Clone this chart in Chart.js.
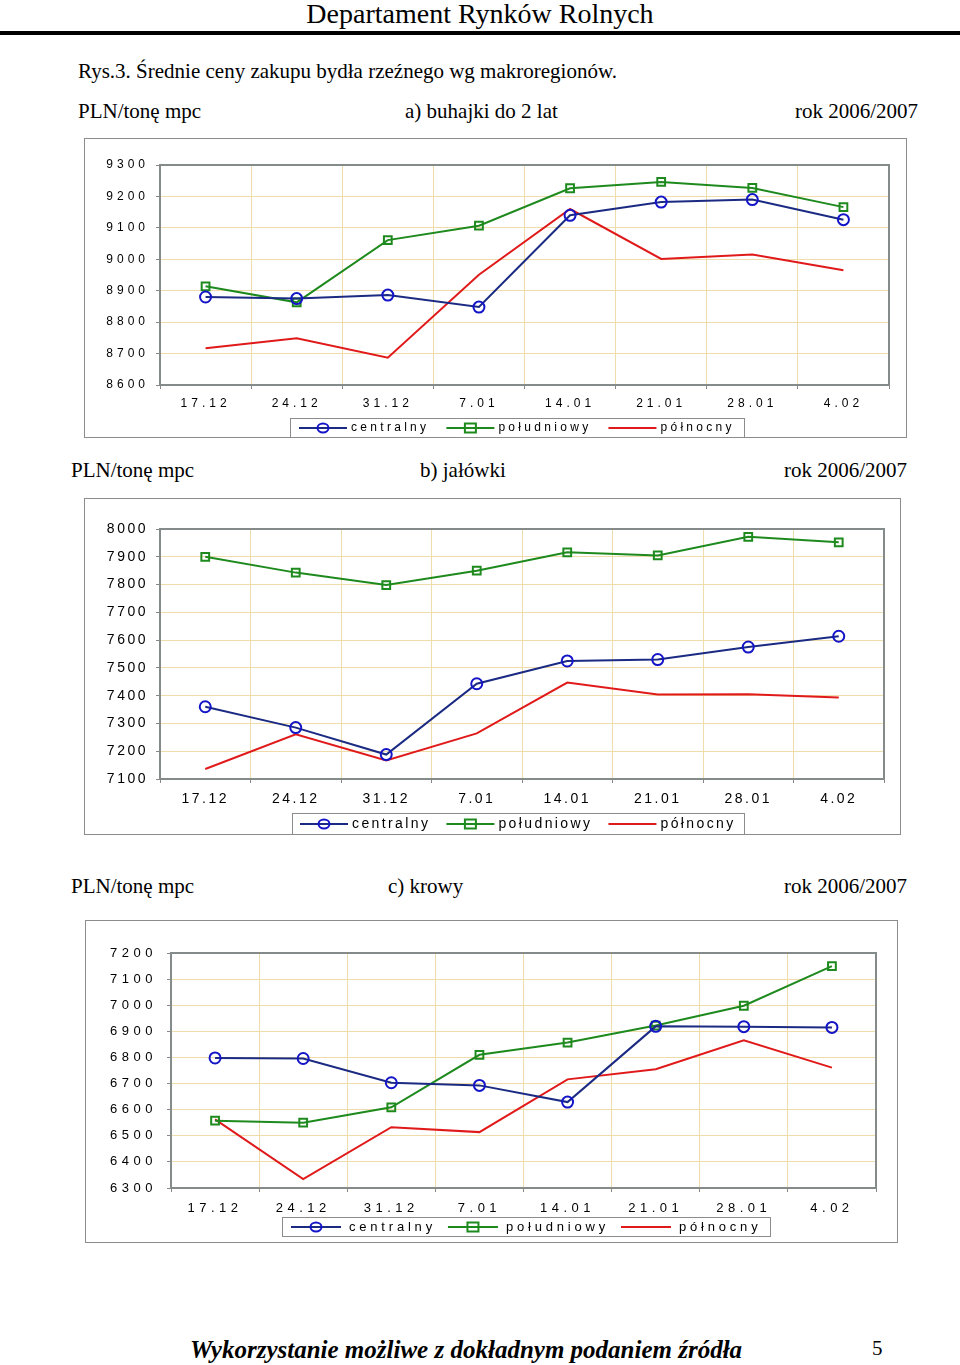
<!DOCTYPE html>
<html lang="pl">
<head>
<meta charset="utf-8">
<title>Rys.3. Średnie ceny zakupu bydła rzeźnego wg makroregionów</title>
<script src="https://cdn.jsdelivr.net/npm/chart.js@4.4.1/dist/chart.umd.min.js"></script>
<style>
  body { margin: 0; background: #fff; }
  #page { position: relative; width: 960px; height: 1365px; overflow: hidden;
          font-family: 'Liberation Serif', 'Times New Roman', serif; color: #000; }
  .t { position: absolute; font-size: 21px; line-height: 24px; white-space: nowrap; }
  .box { position: absolute; border: 1px solid #8c8c8c; background: #fff; }
  .box canvas { display: block; }
</style>
</head>
<body>
<div id="page">
  <div class="t" style="left:0;width:960px;text-align:center;top:-1px;font-size:28px;line-height:30px;">Departament Rynków Rolnych</div>
  <div style="position:absolute;left:0;top:31px;width:960px;height:4px;background:#000;"></div>

  <div class="t" style="left:78px;top:59px;">Rys.3. Średnie ceny zakupu bydła rzeźnego wg makroregionów.</div>

  <div class="t" style="left:78px;top:99px;">PLN/tonę mpc</div>
  <div class="t" style="left:405px;top:99px;">a) buhajki do 2 lat</div>
  <div class="t" style="right:42px;top:99px;">rok 2006/2007</div>
  <div class="box" style="left:84px;top:138px;"><canvas id="chartA" width="821" height="298"></canvas></div>

  <div class="t" style="left:71px;top:458px;">PLN/tonę mpc</div>
  <div class="t" style="left:420px;top:458px;">b) jałówki</div>
  <div class="t" style="right:53px;top:458px;">rok 2006/2007</div>
  <div class="box" style="left:84px;top:498px;"><canvas id="chartB" width="815" height="335"></canvas></div>

  <div class="t" style="left:71px;top:874px;">PLN/tonę mpc</div>
  <div class="t" style="left:388px;top:874px;">c) krowy</div>
  <div class="t" style="right:53px;top:874px;">rok 2006/2007</div>
  <div class="box" style="left:85px;top:920px;"><canvas id="chartC" width="811" height="321"></canvas></div>

  <div class="t" style="left:190px;top:1336px;font-size:25px;line-height:28px;font-weight:bold;font-style:italic;">Wykorzystanie możliwe z dokładnym podaniem źródła</div>
  <div class="t" style="left:872px;top:1336px;">5</div>
</div>

<script>
// Dane z wykresu (PLN/tonę mpc)
const categories = ['17.12', '24.12', '31.12', '7.01', '14.01', '21.01', '28.01', '4.02'];
const seriesNames = ['centralny', 'południowy', 'północny'];

// a) buhajki do 2 lat
const buhajkiCentralny = [8880, 8875, 8886, 8848, 9140, 9182, 9190, 9126];
const buhajkiPoludniowy = [8914, 8863, 9061, 9107, 9226, 9246, 9227, 9166];
const buhajkiPolnocny = [8717, 8749, 8687, 8951, 9160, 9001, 9015, 8965];
const buhajkiOs = [8600, 9300, 100];

// b) jałówki
const jalowkiCentralny = [7360, 7285, 7188, 7443, 7525, 7530, 7575, 7614];
const jalowkiPoludniowy = [7900, 7843, 7798, 7850, 7916, 7905, 7972, 7952];
const jalowkiPolnocny = [7136, 7261, 7167, 7264, 7447, 7404, 7405, 7393];
const jalowkiOs = [7100, 8000, 100];

// c) krowy
const krowyCentralny = [6798, 6796, 6703, 6693, 6629, 6919, 6918, 6915];
const krowyPoludniowy = [6558, 6550, 6609, 6810, 6857, 6922, 6998, 7150];
const krowyPolnocny = [6563, 6334, 6533, 6514, 6716, 6755, 6866, 6761];
const krowyOs = [6300, 7200, 100];

const FONT = "'Liberation Sans', Arial, sans-serif";
const gridColor = '#f0dcaa';

Chart.defaults.font.family = FONT;
Chart.defaults.color = '#000';

// Rozstrzelone litery na osiach (jak w oryginale)
const spacingPlugin = {
  id: 'spacing',
  beforeDraw(chart, args, opts) {
    chart.ctx.letterSpacing = opts.value || '0px';
  }
};

// Ramka obszaru wykresu
const framePlugin = {
  id: 'frame',
  beforeDatasetsDraw(chart) {
    const { ctx, chartArea: a } = chart;
    ctx.save();
    ctx.strokeStyle = '#858a8a';
    ctx.lineWidth = 2;
    ctx.strokeRect(a.left, a.top, a.right - a.left, a.bottom - a.top);
    ctx.restore();
  }
};

// Legenda: linia z markerem + opis, w ramce
const lineLegend = {
  id: 'lineLegend',
  afterDraw(chart, args, o) {
    const ctx = chart.ctx;
    ctx.save();
    ctx.font = o.size + 'px ' + FONT;
    ctx.letterSpacing = o.spacing;
    const items = chart.data.datasets.map(ds => ({ ds, w: ctx.measureText(ds.label).width }));
    let total = o.pad * 2 + o.itemGap * (items.length - 1);
    items.forEach(it => { total += o.symbol + o.gap + it.w; });
    let x = Math.round(o.cx - total / 2);
    ctx.fillStyle = '#fff';
    ctx.fillRect(x, o.top, total, o.height);
    ctx.strokeStyle = '#8c8c8c';
    ctx.lineWidth = 1;
    ctx.strokeRect(x + 0.5, o.top + 0.5, Math.round(total), o.height);
    x += o.pad;
    const cy = o.top + o.height / 2 + 0.5;
    items.forEach(({ ds, w }) => {
      ctx.strokeStyle = ds.borderColor;
      ctx.lineWidth = ds.borderWidth;
      ctx.beginPath();
      ctx.moveTo(x, cy);
      ctx.lineTo(x + o.symbol, cy);
      ctx.stroke();
      if (ds.pointRadius > 0) {
        const mx = x + o.symbol / 2, r = ds.pointRadius;
        ctx.strokeStyle = ds.pointBorderColor;
        ctx.lineWidth = ds.pointBorderWidth;
        ctx.beginPath();
        if (ds.pointStyle === 'rect') ctx.rect(mx - r, cy - r * 0.8, r * 2, r * 1.6);
        else ctx.ellipse(mx, cy, r, r * 0.8, 0, 0, Math.PI * 2);
        ctx.stroke();
      }
      ctx.fillStyle = '#000';
      ctx.textAlign = 'left';
      ctx.textBaseline = 'middle';
      ctx.fillText(ds.label, x + o.symbol + o.gap, cy);
      x += o.symbol + o.gap + w + o.itemGap;
    });
    ctx.restore();
  }
};

function makeDatasets(centralny, poludniowy, polnocny) {
  return [
    {
      label: seriesNames[0], data: centralny,
      borderColor: '#1b2a82', borderWidth: 2,
      pointStyle: 'circle', pointRadius: 5.5, pointBorderWidth: 2,
      pointBorderColor: '#1515c8', pointBackgroundColor: 'rgba(0,0,0,0)'
    },
    {
      label: seriesNames[1], data: poludniowy,
      borderColor: '#1e8a1e', borderWidth: 2,
      pointStyle: 'rect', pointRadius: 5.5, pointBorderWidth: 2,
      pointBorderColor: '#1e8a1e', pointBackgroundColor: 'rgba(0,0,0,0)'
    },
    {
      label: seriesNames[2], data: polnocny,
      borderColor: '#e01a1a', borderWidth: 2, pointRadius: 0
    }
  ];
}

function makeChart(id, datasets, os, g) {
  return new Chart(document.getElementById(id), {
    type: 'line',
    data: { labels: categories, datasets },
    options: {
      responsive: false,
      animation: false,
      events: [],
      layout: { padding: { left: 0, right: g.right, top: g.top, bottom: 0 } },
      elements: { line: { tension: 0 } },
      scales: {
        x: {
          offset: true,
          grid: { offset: true, color: gridColor, tickColor: '#888', tickLength: 4 },
          border: { display: false },
          ticks: { color: '#000', font: { size: g.font }, padding: g.xPad, maxRotation: 0, autoSkip: false },
          afterFit(scale) { scale.height = g.xHeight; }
        },
        y: {
          min: os[0], max: os[1],
          grid: { color: gridColor, tickColor: '#888', tickLength: 4 },
          border: { display: false },
          ticks: {
            stepSize: os[2], color: '#000', font: { size: g.font }, padding: g.yPad,
            callback: v => String(v)
          },
          afterFit(scale) { scale.width = g.yWidth; }
        }
      },
      plugins: {
        legend: { display: false },
        tooltip: { enabled: false },
        spacing: { value: g.spacing },
        lineLegend: g.legend
      }
    },
    plugins: [spacingPlugin, framePlugin, lineLegend]
  });
}

makeChart('chartA', makeDatasets(buhajkiCentralny, buhajkiPoludniowy, buhajkiPolnocny), buhajkiOs, {
  right: 17, top: 26, xHeight: 52, yWidth: 75, font: 12, spacing: '4px', xPad: 7, yPad: 7,
  legend: { cx: 432, top: 279, height: 19, size: 12, spacing: '3.3px', pad: 9, symbol: 48, gap: 4, itemGap: 17 }
});

makeChart('chartB', makeDatasets(jalowkiCentralny, jalowkiPoludniowy, jalowkiPolnocny), jalowkiOs, {
  right: 16, top: 30, xHeight: 55, yWidth: 75, font: 14, spacing: '2.5px', xPad: 8, yPad: 8,
  legend: { cx: 433, top: 314, height: 21, size: 14, spacing: '2.4px', pad: 8, symbol: 48, gap: 4, itemGap: 16 }
});

makeChart('chartC', makeDatasets(krowyCentralny, krowyPoludniowy, krowyPolnocny), krowyOs, {
  right: 21, top: 32, xHeight: 54, yWidth: 85, font: 13, spacing: '4.5px', xPad: 9, yPad: 10,
  legend: { cx: 440, top: 296, height: 19, size: 13, spacing: '3.8px', pad: 9, symbol: 50, gap: 8, itemGap: 12 }
});
</script>
</body>
</html>
